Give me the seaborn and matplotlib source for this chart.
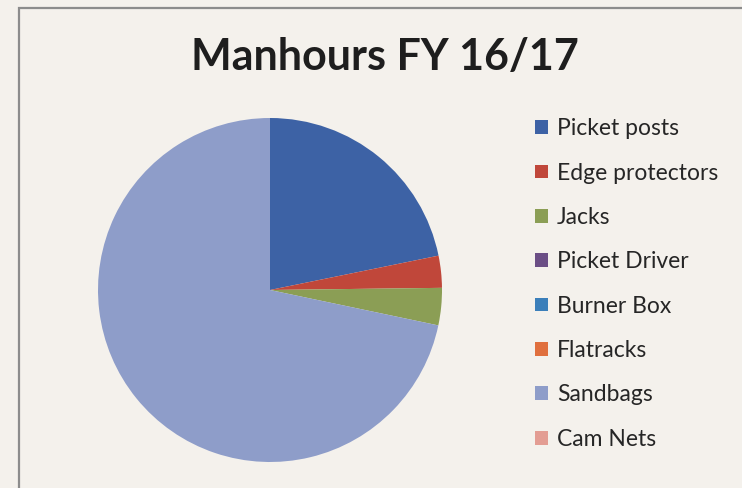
import matplotlib
matplotlib.use("Agg")
import matplotlib.pyplot as plt
import seaborn as sns
from matplotlib.patches import Rectangle

categories = ["Picket posts", "Edge protectors", "Jacks", "Picket Driver",
              "Burner Box", "Flatracks", "Sandbags", "Cam Nets"]
values = [21.8, 3.0, 3.5, 0.0, 0.0, 0.0, 71.7, 0.0]
colors = ["#3D62A5", "#C0473A", "#8B9E55", "#6B4E85",
          "#3B7FBA", "#E0703E", "#8E9DC9", "#E39D93"]
title = "Manhours FY 16/17"

sns.set_style("white")
palette = sns.color_palette(colors)
plt.rcParams['font.family'] = ['Lato', 'DejaVu Sans']

W, H = 742, 488
bg = "#F4F1EC"
fig = plt.figure(figsize=(W / 100, H / 100), dpi=100, facecolor=bg)

# border
fig.add_artist(Rectangle((19 / W, -0.1), 1.2, (H - 8) / H + 0.1, transform=fig.transFigure,
                         fill=False, edgecolor="#8C8C8C", linewidth=1.6))

cx, cy, r = 270, 290, 172
ax = fig.add_axes([(cx - r) / W, (H - cy - r) / H, 2 * r / W, 2 * r / H])
ax.set_facecolor("none")
wedges, _ = ax.pie(values, colors=palette, startangle=90, counterclock=False,
                   radius=1.0, wedgeprops=dict(linewidth=0))
ax.set_xlim(-1, 1)
ax.set_ylim(-1, 1)
ax.set_aspect("equal")
ax.axis("off")

fig.text(385 / W, 1 - 57 / H, title, ha="center", va="center",
         fontsize=31, fontweight="bold", color="#1E1E1E")

leg = fig.legend(wedges, categories, loc="upper left",
                 bbox_to_anchor=(526 / W, 1 - 109 / H), frameon=False,
                 fontsize=16.5, handlelength=0.55, handleheight=0.55,
                 handletextpad=0.4, labelspacing=1.02, borderaxespad=0)
for t in leg.get_texts():
    t.set_color("#262626")

fig.savefig("out.png", dpi=100, facecolor=bg)
